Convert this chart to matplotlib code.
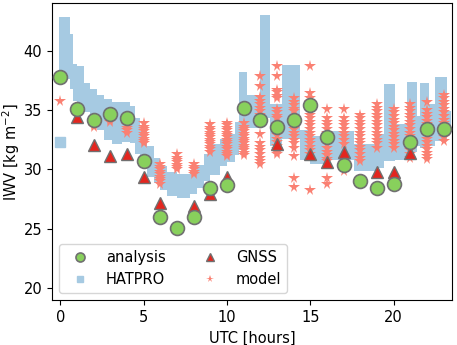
import numpy as np
import matplotlib
matplotlib.use("Agg")
import matplotlib.pyplot as plt

# analysis (green circles)
ana_hours = list(range(24))
ana_iwv = [37.8, 35.1, 34.15, 34.7, 34.3, 30.7, 26.0, 25.1, 26.0, 28.45, 28.7, 35.15,
           34.2, 33.55, 34.15, 35.4, 32.7, 30.4, 29.0, 28.4, 28.75, 32.3, 33.4, 33.4]

# GNSS (red triangles)
gnss_hours = [1, 2, 3, 4, 5, 6, 8, 9, 10, 13, 15, 16, 17, 19, 20, 21]
gnss_iwv = [34.4, 32.05, 31.1, 31.3, 29.35, 27.2, 26.9, 27.95, 29.4, 32.15,
            31.3, 30.6, 31.5, 29.8, 29.8, 31.4]

# HATPRO band: step start time, lower and upper edge
hat_t = [-0.1, 0.3, 0.55, 0.75, 1.0, 1.4, 1.8, 2.2, 2.6, 3.1, 3.7, 4.2, 4.5, 4.8,
         5.2, 5.6, 6.0, 6.4, 7.0, 7.8, 8.2, 8.6, 9.0, 9.6, 10.0, 10.5, 10.7, 11.2,
         12.0, 12.6, 13.3, 14.4, 15.0, 16.0, 17.6, 19.0, 19.4, 20.1, 20.8, 21.4,
         21.6, 22.1, 22.5, 23.2, 23.45]
hat_lo = [38.3, 37.6, 36.8, 35.8, 35.2, 34.8, 34.0, 33.3, 32.5, 32.1, 32.3, 32.2,
          31.3, 30.2, 29.4, 28.9, 28.3, 27.8, 27.6, 27.9, 28.4, 29.0, 29.5, 30.3,
          30.6, 31.2, 31.6, 33.5, 34.3, 32.0, 32.6, 30.8, 30.5, 30.8, 29.9, 30.1,
          30.7, 30.8, 31.5, 32.0, 31.8, 32.0, 32.4, 33.0, 33.0]
hat_hi = [42.8, 42.8, 41.4, 38.9, 38.7, 37.3, 36.8, 36.3, 35.9, 35.7, 35.7, 35.3,
          34.3, 33.2, 32.0, 31.0, 30.3, 29.8, 29.6, 29.9, 30.4, 31.3, 32.1, 32.6,
          33.0, 34.0, 38.2, 36.3, 43.0, 35.5, 38.8, 33.3, 32.8, 33.2, 32.1, 33.0,
          37.2, 33.8, 37.4, 34.5, 37.3, 35.5, 37.8, 34.9, 34.9]
hat_single_t = [0]
hat_single_v = [32.3]

# model ensemble (stars), one list per hour
model_vals = [
    [35.75],
    [34.6, 34.75, 34.9],
    [33.6, 33.75, 33.9],
    [34.0, 34.15, 34.3],
    [33.1, 33.3, 33.5, 33.7],
    [32.2, 32.4, 32.6, 32.8, 33.0, 33.2, 33.4, 33.6, 33.9],
    [28.8, 29.0, 29.2, 29.4, 29.6, 29.8, 30.0, 30.2, 30.5],
    [30.0, 30.2, 30.4, 30.6, 30.8, 31.0, 31.3],
    [29.6, 29.8, 30.0, 30.2, 30.5],
    [31.5, 31.7, 31.9, 32.1, 32.3, 32.5, 32.7, 32.9, 33.1, 33.3, 33.5, 33.8],
    [31.1, 31.3, 31.5, 31.7, 31.9, 32.1, 32.3, 32.5, 32.7, 32.9, 33.1, 33.3, 33.5, 33.7, 33.9],
    [31.2, 31.4, 31.6, 31.8, 32.0, 32.2, 32.4, 32.6, 32.8, 33.0, 33.2, 33.4, 33.6, 33.9],
    [37.9, 37.0, 36.1, 35.8, 35.5, 35.2, 34.9, 34.6, 33.0, 32.2, 31.9, 31.6, 31.3, 31.0, 30.7, 30.5],
    [38.7, 37.9, 36.7, 36.5, 36.2, 36.0, 35.1, 34.8, 34.5, 34.3, 33.8, 33.5, 33.2, 32.9,
     32.6, 32.3, 32.0, 31.7, 31.5, 31.3],
    [36.0, 35.7, 35.4, 35.1, 34.9, 34.3, 34.0, 33.7, 33.4, 33.1, 32.8, 32.5, 32.2, 31.8,
     31.1, 29.3, 28.5],
    [38.7, 36.4, 36.0, 35.7, 35.5, 35.2, 34.9, 34.6, 34.3, 34.0, 33.7, 33.4, 33.1, 32.8,
     32.5, 32.2, 31.9, 31.6, 31.3, 28.3],
    [35.1, 34.3, 34.0, 33.7, 33.4, 33.1, 32.8, 32.6, 32.1, 31.8, 31.5, 31.2, 30.9, 30.7,
     29.3, 28.8],
    [35.1, 34.3, 34.0, 33.7, 33.4, 33.1, 32.8, 32.5, 32.1, 29.9],
    [34.6, 34.3, 34.0, 33.7, 33.4, 33.1, 32.8, 32.5, 32.2, 31.9, 31.6, 31.3, 31.0, 30.7],
    [35.5, 35.2, 34.9, 34.6, 34.3, 34.0, 33.7, 33.4, 33.1, 32.8, 32.5, 32.2, 31.8],
    [35.1, 34.8, 34.5, 34.2, 33.9, 33.6, 33.3, 33.0, 32.7, 32.4, 32.1, 31.8],
    [35.5, 35.2, 34.9, 34.6, 34.3, 34.0, 33.7, 33.4, 33.1, 32.8, 32.5, 32.2, 31.9, 31.6,
     31.3, 31.0],
    [35.7, 35.0, 34.7, 34.4, 34.1, 33.8, 33.5, 32.6, 32.3, 32.0, 31.7, 31.4, 31.1, 30.9],
    [36.3, 36.0, 35.7, 35.4, 35.1, 34.8, 34.5, 34.2, 33.9, 33.6, 33.3, 33.0, 32.7, 32.4],
]

plt.rcParams['font.size'] = 10.5

hat_col = '#a6cae2'
fig, ax = plt.subplots(figsize=(4.57, 3.45), dpi=100)
fig.subplots_adjust(left=0.114, right=0.989, top=0.991, bottom=0.13)

ax.fill_between(hat_t, hat_lo, hat_hi, step='post', color=hat_col, lw=0, zorder=1)
ax.plot(hat_single_t, hat_single_v, 's', color=hat_col, ms=6.5, zorder=1, label='HATPRO')

mx = [h for h, vals in enumerate(model_vals) for v in vals]
my = [v for vals in model_vals for v in vals]
ax.plot(mx, my, '*', color='#fa8072', ms=8.5, mew=0, zorder=2, label='model')

ax.plot(gnss_hours, gnss_iwv, '^', color='#e3261f', mec='#707070', mew=1, ms=9,
        zorder=3, label='GNSS')
ax.plot(ana_hours, ana_iwv, 'o', color='#88d05c', mec='#707070', mew=1.2, ms=10,
        zorder=4, label='analysis')

ax.set_xlim(-0.5, 23.5)
ax.set_ylim(19, 44)
ax.set_xticks([0, 5, 10, 15, 20])
ax.set_yticks([20, 25, 30, 35, 40])
ax.set_xlabel('UTC [hours]')
ax.set_ylabel('IWV [kg m$^{-2}$]', labelpad=1)

h, l = ax.get_legend_handles_labels()
order = [3, 0, 2, 1]
ax.legend([h[i] for i in order], [l[i] for i in order], loc='lower left', ncol=2,
          markerscale=0.65)

fig.savefig('out.png', dpi=100)
